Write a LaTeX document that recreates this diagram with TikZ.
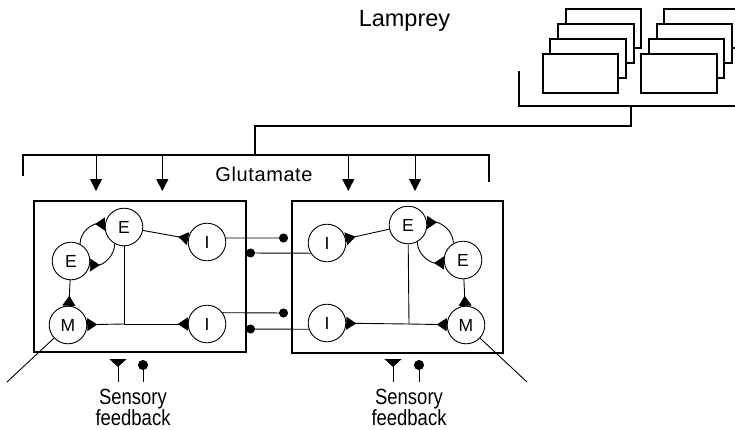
\documentclass[tikz,border=0pt]{standalone}
\usepackage{fontspec}
\setmainfont{Liberation Sans}
\newfontfamily\condfont[FakeStretch=0.84]{Liberation Sans}
\usetikzlibrary{arrows.meta}
\begin{document}
\begin{tikzpicture}[x=1pt,y=-1pt,
  neuron/.style={circle,draw,line width=0.9pt,minimum size=37.6pt,inner sep=0pt,font=\fontsize{17.5}{20}\selectfont},
  thinline/.style={line width=0.9pt},
  syn/.style={line width=0.9pt,-{Triangle[reversed,length=10pt,width=13pt]}},
  dotend/.style={line width=0.9pt,-{Circle[length=9pt]}},
  sensetri/.style={line width=0.9pt,-{Triangle[reversed,length=8pt,width=17pt]}},
  sensedot/.style={line width=0.9pt,-{Circle[length=10pt]}},
  cellbox/.style={draw,line width=2.2pt,inner sep=0pt},
  brk/.style={line width=2pt},
  glu/.style={line width=0.9pt,-{Triangle[length=12pt,width=12pt]}},
  stackrect/.style={draw,fill=white,line width=2pt},
  senselabel/.style={font=\condfont\fontsize{22}{22}\selectfont,anchor=base,inner sep=0pt},
]
\clip (0,0) rectangle (735,429);
\fill[white] (0,0) rectangle (735,429);

% title
\node[font=\fontsize{23.5}{26}\selectfont,anchor=base,inner sep=0pt] (lamprey) at (404.5,26.7) {Lamprey};

% stacked segments
\foreach \k in {3,2,1,0} {
  \filldraw[stackrect] ({542.7+7.67*\k},{54-15*\k}) rectangle ++(75.6,38.7);
  \filldraw[stackrect] ({641.3+7.67*\k},{54-15*\k}) rectangle ++(75.4,38.7);
}

% brackets
\draw[brk] (519,71) -- (519,106) -- (745,106);
\draw[brk] (631,106) -- (631,126) -- (255,126) -- (255,155);
\draw[brk] (22.7,176) -- (22.7,155) -- (489,155) -- (489,182);

\node[font=\addfontfeature{LetterSpace=3}\fontsize{20}{22}\selectfont,anchor=base,inner sep=0pt] (glut) at (264,181) {Glutamate};

% glutamate arrows
\foreach \gx [count=\i] in {96,162.3,348.3,415} {
  \coordinate (gtop\i) at (\gx,155);
  \coordinate (gtip\i) at (\gx,191);
  \draw[glu] (gtop\i) -- (gtip\i);
}

% boxes
\node[cellbox,minimum width=212pt,minimum height=151pt] (lB) at (140,276.5) {};
\node[cellbox,minimum width=211pt,minimum height=152pt] (rB) at (397.5,277) {};

% left neurons
\node[neuron] (lE1) at (124,227) {E};
\node[neuron] (lE2) at (71,261) {E};
\node[neuron] (lM) at (68,325) {M};
\node[neuron] (lI1) at (207,242) {I};
\node[neuron] (lI2) at (207,324) {I};
\coordinate (lJ) at (124,324);

% right neurons
\node[neuron] (rE1) at (408,225) {E};
\node[neuron] (rE2) at (463,260) {E};
\node[neuron] (rM) at (466,325) {M};
\node[neuron] (rI1) at (327,243) {I};
\node[neuron] (rI2) at (327,323) {I};
\coordinate (rJ) at (409,324);

% left connections
\draw[syn] (lE1) -- (lI1);
\draw[syn] (lE2.62) to[out=90,in=180] (lE1.171);
\draw[syn] (lE1.241) to[out=270,in=0] (lE2.348);
\draw[syn] (lE2) -- (lM);
\draw[thinline] (lE1) -- (lJ);
\draw[syn] (lJ) -- (lM);
\draw[syn] (lJ) -- (lI2);
\coordinate (lout) at (7,382);
\draw[thinline] (lM) -- (lout);

% right connections
\draw[syn] (rE1) -- (rI1);
\draw[syn] (rE2.120) to[out=90,in=0] (rE1.8);
\draw[syn] (rE1.299) to[out=270,in=180] (rE2.189);
\draw[syn] (rE2) -- (rM);
\draw[thinline] (rE1) -- (rJ);
\draw[syn] (rJ) -- (rI2);
\draw[syn] (rJ) -- (rM);
\coordinate (rout) at (527,382);
\draw[thinline] (rM) -- (rout);

% cross connections
\coordinate (dA) at (288,238);
\coordinate (dB) at (246,253);
\coordinate (dC) at (288,313);
\coordinate (dD) at (246,329);
\draw[dotend] (lI1.12) -- (dA);
\draw[dotend] (rI1.212) -- (dB);
\draw[dotend] (lI2.36) -- (dC);
\draw[dotend] (rI2.199) -- (dD);

% sensory feedback
\coordinate (sLa) at (118,382); \coordinate (sLat) at (118,359);
\coordinate (sLb) at (143,382); \coordinate (sLbt) at (143,360);
\coordinate (sRa) at (393,382); \coordinate (sRat) at (393,359);
\coordinate (sRb) at (419,382); \coordinate (sRbt) at (419,360);
\draw[sensetri] (sLa) -- (sLat);
\draw[sensedot] (sLb) -- (sLbt);
\draw[sensetri] (sRa) -- (sRat);
\draw[sensedot] (sRb) -- (sRbt);
\node[senselabel] (sensL) at (133,404) {Sensory};
\node[senselabel] (fbL) at (133,425) {feedback};
\node[senselabel] (sensR) at (409,404) {Sensory};
\node[senselabel] (fbR) at (409,425) {feedback};
\end{tikzpicture}
\end{document}
